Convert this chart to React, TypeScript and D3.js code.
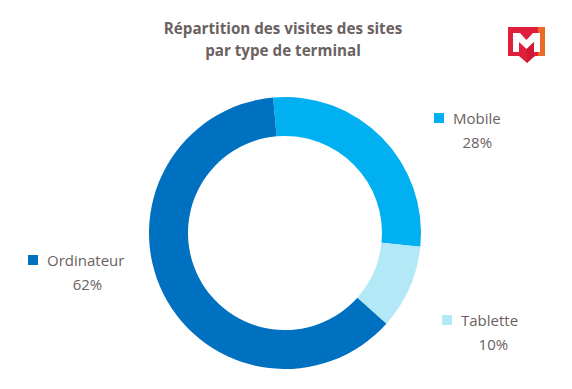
import * as d3 from 'd3';

const categories = ['Mobile', 'Tablette', 'Ordinateur'];
const values = [28, 10, 62];
const colors = ['#00b0f0', '#b3e9f7', '#0070c0'];
const titleLines = ['Répartition des visites des sites', 'par type de terminal'];

// legend anchors (top-left of the colour square)
const labelPos = [
    { x: 434, y: 113 },
    { x: 442, y: 315 },
    { x: 28, y: 255 },
];

const width = 572;
const height = 389;
const cx = 285;
const cy = 233;
const outerR = 136;
const innerR = 97;
const textColor = '#6b6161';
const font = '"Open Sans", sans-serif';

function Logo() {
    // small decorative brand mark, top right
    return (
        <g transform="translate(508,27)">
            <rect x={0} y={0} width={30} height={29} fill="#e0203a" />
            <rect x={30} y={0} width={7} height={29} fill="#ee6a24" />
            <path d="M11,29 L19,36 L27,29 Z" fill="#e0203a" />
            <path
                d="M5,6 L12,6 L18.5,13 L25,6 L32,6 L32,25 L26,25 L26,15 L18.5,22 L11,15 L11,25 L5,25 Z"
                fill="#ffffff"
            />
            <path d="M18.5,22 L26,15 L26,29 L19,36 Z" fill="#c41530" opacity={0.6} />
        </g>
    );
}

type Slice = { name: string; value: number; color: string };

export default function App() {
    const data: Slice[] = categories.map((c, i) => ({ name: c, value: values[i], color: colors[i] }));
    const pie = d3
        .pie<Slice>()
        .value((d) => d.value)
        .sort(null)
        .startAngle((-5 * Math.PI) / 180)
        .endAngle((355 * Math.PI) / 180);
    const arc = d3.arc<d3.PieArcDatum<Slice>>().innerRadius(innerR).outerRadius(outerR);
    const arcs = pie(data);

    return (
        <svg
            width={width}
            height={height}
            style={{ position: 'absolute', left: 0, top: 0, background: '#fff' }}
        >
            {titleLines.map((t, i) => (
                <text
                    key={i}
                    x={283}
                    y={34 + i * 22}
                    textAnchor="middle"
                    fontFamily={font}
                    fontWeight={700}
                    fontSize={15.2}
                    fill={textColor}
                >
                    {t}
                </text>
            ))}
            <Logo />
            <g transform={`translate(${cx},${cy})`}>
                {arcs.map((a, i) => (
                    <path key={i} d={arc(a) ?? ''} fill={a.data.color} />
                ))}
            </g>
            {data.map((d, i) => {
                const p = labelPos[i];
                const tx = p.x + 19;
                const labelW = d.name.length * 8.1;
                return (
                    <g key={d.name} fontFamily={font} fill={textColor} fontSize={15}>
                        <rect x={p.x} y={p.y} width={10} height={10} fill={d.color} />
                        <text x={tx} y={p.y + 11}>
                            {d.name}
                        </text>
                        <text x={tx + labelW / 2} y={p.y + 35} textAnchor="middle">
                            {`${d.value}%`}
                        </text>
                    </g>
                );
            })}
        </svg>
    );
}
